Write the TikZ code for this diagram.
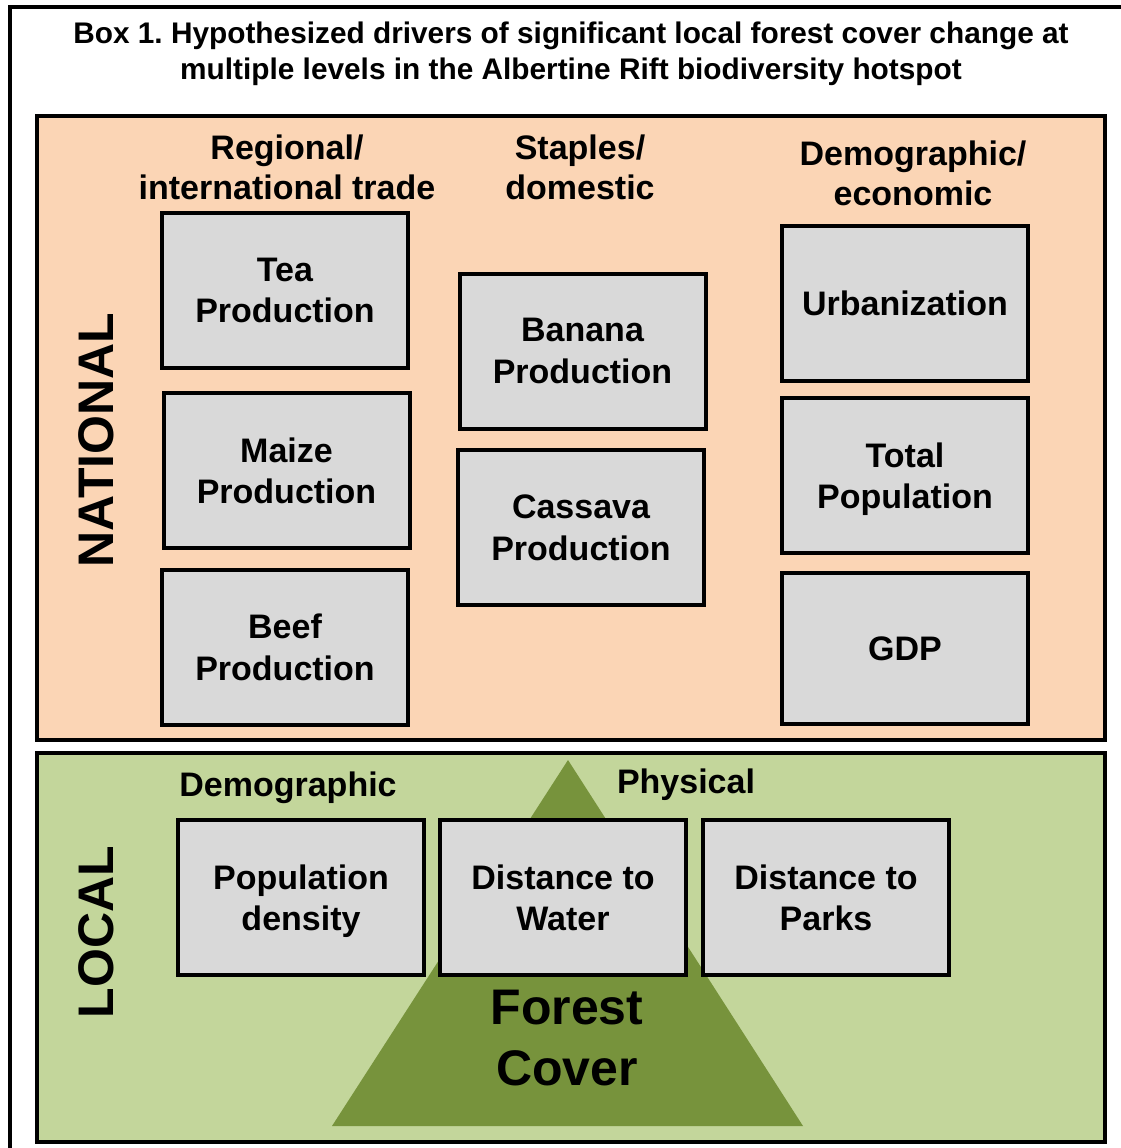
\documentclass[tikz,border=0pt]{standalone}
\usepackage{fontspec}
\setmainfont{Liberation Sans}
\frenchspacing
\definecolor{natfill}{HTML}{FBD5B5}
\definecolor{locfill}{HTML}{C3D69B}
\definecolor{trifill}{HTML}{77933C}
\definecolor{boxfill}{HTML}{D9D9D9}
\begin{document}
\begin{tikzpicture}[x=1pt,y=-1pt,
  drvbox/.style={draw=black, line width=4pt, fill=boxfill, minimum width=246pt, minimum height=155pt,
    align=center, font=\fontsize{34}{41.5}\selectfont\bfseries, inner sep=0pt, text depth=0pt},
  heading/.style={align=center, font=\fontsize{34}{40}\selectfont\bfseries, inner sep=0pt},
  level/.style={rotate=90, font=\fontsize{50}{60}\selectfont\bfseries, inner sep=0pt},
  panel/.style={draw=black, line width=4pt}]
\useasboundingbox (0,0) rectangle (1121,1148);
\clip (0,0) rectangle (1121,1148);
% outer frame
\draw[line width=4pt] (10,7) rectangle (1140,1170);
\node[align=center, font=\fontsize{29.8}{36}\selectfont\bfseries, inner sep=0pt] (title) at (571,54)
  {Box 1. Hypothesized drivers of significant local forest cover change at\\multiple levels in the Albertine Rift biodiversity hotspot};
% panels
\draw[panel, fill=natfill] (37,116) rectangle (1105,740);
\draw[panel, fill=locfill] (37,753) rectangle (1105,1142);
% triangle
\fill[trifill] (568,760) -- (803,1126) -- (332,1126) -- cycle;
% level labels
\node[level] (national) at (96,440) {NATIONAL};
\node[level] (local) at (96,932) {LOCAL};
% headings
\node[heading] (h1) at (287,167) {Regional/\\international trade};
\node[heading] (h2) at (580,167) {Staples/\\domestic};
\node[heading] (h3) at (913,173) {Demographic/\\economic};
\node[heading] (h4) at (288,788) {Demographic};
\node[heading] (h5) at (686,785) {Physical};
% national boxes
\node[drvbox] (tea) at (285,290.5) {Tea\\Production};
\node[drvbox] (maize) at (286.5,470.5) {Maize\\Production};
\node[drvbox] (beef) at (285,647) {Beef\\Production};
\node[drvbox] (banana) at (582.5,351) {Banana\\Production};
\node[drvbox] (cassava) at (581,527.5) {Cassava\\Production};
\node[drvbox] (urban) at (905,303.5) {Urbanization};
\node[drvbox] (pop) at (905,475.5) {Total\\Population};
\node[drvbox, minimum height=151pt] (gdp) at (905,648.5) {GDP};
% local boxes
\node[drvbox] (dens) at (301,897.5) {Population\\density};
\node[drvbox] (water) at (563,897.5) {Distance to\\Water};
\node[drvbox] (parks) at (826,897.5) {Distance to\\Parks};
% forest cover
\node[align=center, font=\fontsize{50}{61}\selectfont\bfseries, inner sep=0pt] (forest) at (567,1038) {Forest\\Cover};
\end{tikzpicture}
\end{document}
